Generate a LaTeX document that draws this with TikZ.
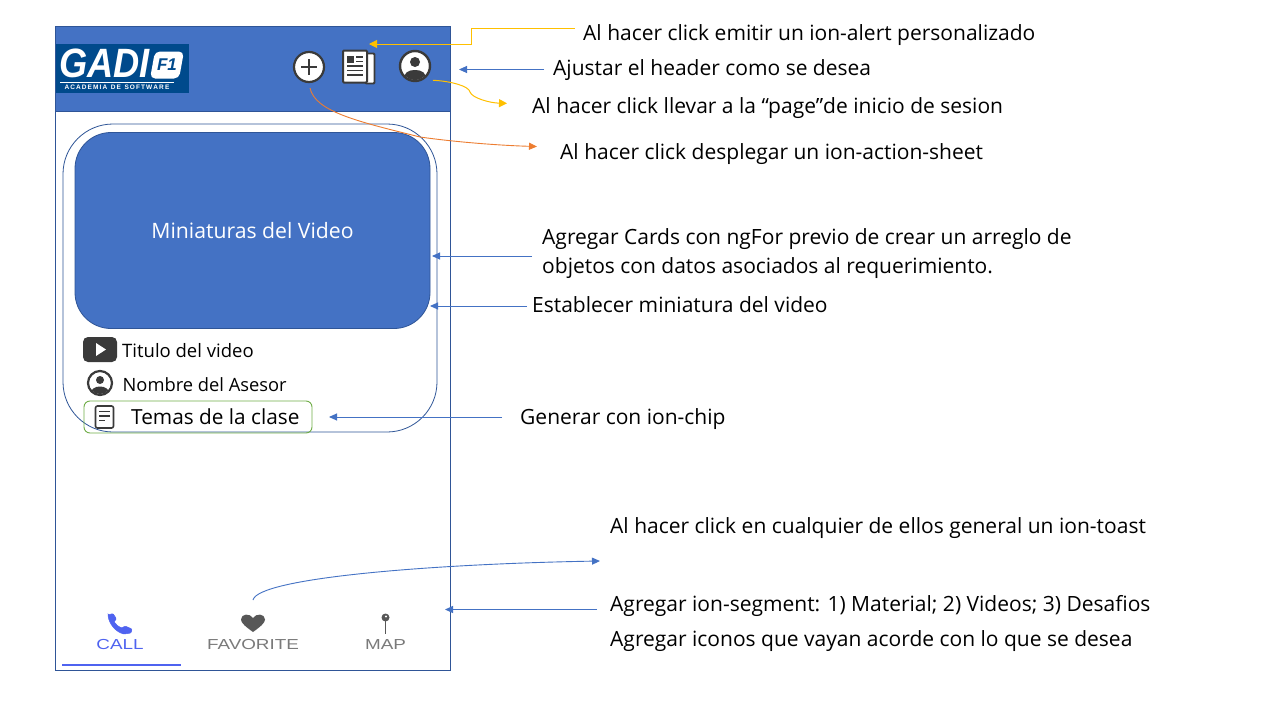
\documentclass[tikz,border=0pt]{standalone}
\usepackage{fontspec}
\setmainfont{Open Sans}
\newfontfamily\logofont{Liberation Sans}
\newfontfamily\tabfont{Liberation Sans}
\usetikzlibrary{arrows.meta}
\definecolor{hdrblue}{HTML}{4472C4}
\definecolor{darkblue}{HTML}{2F5597}
\definecolor{logoblue}{HTML}{004A8C}
\definecolor{ambar}{HTML}{FFC000}
\definecolor{naranja}{HTML}{ED7D31}
\definecolor{verde}{HTML}{70AD47}
\definecolor{icondark}{HTML}{3A3A3A}
\definecolor{tabblue}{HTML}{4F63F0}
\definecolor{tabgrey}{HTML}{7A7A7A}
\tikzset{
  note/.style={anchor=base west,inner ysep=0pt,font=\fontsize{21}{24}\selectfont,text=black},
  bluearrow/.style={draw=hdrblue,line width=0.9pt,-{Triangle[length=8pt,width=7pt]}},
  yelarrow/.style={draw=ambar,line width=1pt,-{Triangle[length=8pt,width=8pt]}},
  orgarrow/.style={draw=naranja,line width=0.9pt,-{Triangle[length=8pt,width=7pt]}},
  iconline/.style={draw=icondark,line width=2pt},
  tablabel/.style={font=\tabfont\fontsize{14.5}{16}\selectfont,inner sep=0pt,xscale=1.3},
}
\begin{document}
\begin{tikzpicture}[x=1pt,y=-1pt]
\useasboundingbox (0,0) rectangle (1280,720);
\fill[white] (0,0) rectangle (1280,720);
% phone frame
\node[draw=darkblue,line width=1pt,fill=white,minimum width=395pt,minimum height=644pt,inner sep=0pt,outer sep=0pt,anchor=north west] (phone) at (55.5,26.5) {};
\node[draw=darkblue,line width=1pt,fill=hdrblue,minimum width=395pt,minimum height=85pt,inner sep=0pt,outer sep=0pt,anchor=north west] (header) at (55.5,26.5) {};
% logo
\node[fill=logoblue,minimum width=133pt,minimum height=49pt,inner sep=0pt,outer sep=0pt,anchor=north west] (logo) at (56,44) {};
\node[inner sep=0pt,text=white,xscale=0.93,yscale=1.05] (logoname) at (104.5,63.5) {\logofont\fontsize{39}{39}\selectfont\bfseries\itshape GADI};
\node[fill=white,rounded corners=5pt,minimum width=29pt,minimum height=27pt,inner sep=0pt,xslant=0.18] (logobox) at (167,65) {};
\node[inner sep=0pt,text=logoblue] (logof) at (167,65) {\logofont\fontsize{17}{17}\selectfont\bfseries\itshape F1};
\draw[white,line width=0.8pt] (60,82) -- (174,82);
\node[inner sep=0pt,text=white] (logosub) at (117,87) {\logofont\fontsize{6.5}{7}\selectfont\bfseries A\,C\,A\,D\,E\,M\,I\,A\ \ D\,E\ \ S\,O\,F\,T\,W\,A\,R\,E};
% plus icon
\node[circle,draw=icondark,line width=2.2pt,fill=white,minimum size=30pt,inner sep=0pt,outer sep=0pt] (plus) at (309,67) {};
\draw[icondark,line width=2.2pt] (301,67) -- (317,67) (309,59) -- (309,75);
% newspaper icon
\node[draw=icondark,fill=white,line width=1.8pt,rounded corners=1pt,minimum width=9pt,minimum height=30pt,inner sep=0pt] (newsback) at (370,68.5) {};
\node[draw=icondark,fill=white,line width=2pt,rounded corners=1pt,minimum width=24pt,minimum height=32pt,inner sep=0pt] (news) at (355,66.5) {};
\fill[icondark] (347,56) rectangle (354,63);
\draw[icondark,line width=1.6pt] (356,57) -- (363,57) (356,61.5) -- (363,61.5) (347,66) -- (363,66) (347,70.5) -- (363,70.5) (347,75) -- (363,75);
% person icon top
\node[circle,draw=icondark,line width=2.4pt,fill=white,minimum size=30pt,inner sep=0pt] (user) at (415,66) {};
\fill[icondark] (415,62) circle (5pt);
\begin{scope}
\clip (415,66) circle (14pt);
\fill[icondark] (403,82) .. controls (403,72) and (409,70) .. (415,70) .. controls (421,70) and (427,72) .. (427,82) -- cycle;
\end{scope}
% card
\node[draw=darkblue,line width=0.8pt,fill=white,rounded corners=50pt,minimum width=374pt,minimum height=308pt,inner sep=0pt,outer sep=0pt,anchor=north west] (card) at (63,124) {};
\node[draw=darkblue,line width=0.8pt,fill=hdrblue,rounded corners=36pt,minimum width=355pt,minimum height=196pt,inner sep=0pt,outer sep=0pt,anchor=north west,text=white,font=\fontsize{21.2}{24}\selectfont] (thumb) at (75,132.5) {Miniaturas del Video};
% play icon
\node[fill=icondark,rounded corners=5pt,minimum width=34pt,minimum height=25pt,inner sep=0pt] (play) at (100,349.5) {};
\fill[white] (96,343) -- (106,349.5) -- (96,356) -- cycle;
\node[anchor=base west,inner sep=0pt,font=\fontsize{18.5}{22}\selectfont] (ttitle) at (122,357.2) {Titulo del video};
% person icon
\node[circle,draw=icondark,line width=2.2pt,fill=white,minimum size=24pt,inner sep=0pt] (person) at (100,383) {};
\fill[icondark] (100,380) circle (4pt);
\begin{scope}
\clip (100,383) circle (11pt);
\fill[icondark] (90,396) .. controls (90,389) and (95,386.5) .. (100,386.5) .. controls (105,386.5) and (110,389) .. (110,396) -- cycle;
\end{scope}
\node[anchor=base west,inner sep=0pt,font=\fontsize{18.3}{22}\selectfont] (tasesor) at (122.5,391.2) {Nombre del Asesor};
% chip
\node[draw=verde,line width=0.9pt,rounded corners=6pt,minimum width=228pt,minimum height=32pt,inner sep=0pt,outer sep=0pt,anchor=north west] (chip) at (84,401) {};
\node[draw=icondark,line width=1.6pt,fill=white,rounded corners=2pt,minimum width=18pt,minimum height=22pt,inner sep=0pt] (doc) at (104.5,417) {};
\draw[icondark,line width=1.2pt] (99,411.5) -- (110,411.5) (99,416) -- (110,416) (99,420.5) -- (105,420.5);
\node[anchor=base west,inner sep=0pt,font=\fontsize{20.8}{24}\selectfont] (tchip) at (131,424) {Temas de la clase};
% tabs
\draw[tabblue,line width=2pt] (62,665) -- (181,665);
\node[tablabel,text=tabblue] (call) at (120,644.5) {CALL};
\node[tablabel,text=tabgrey] (fav) at (253,644.5) {FAVORITE};
\node[tablabel,text=tabgrey] (map) at (385.5,644.5) {MAP};
\fill[tabblue,draw=tabblue,line width=0.5pt,rounded corners=1pt] (108,615) -- (113,613.5) -- (116.5,619) -- (114,621.5) .. controls (116,625) and (119,627) .. (122,628) -- (125,626) -- (132,629) -- (131,633) -- (124,634) .. controls (116,632) and (109,624) .. (108,615) -- cycle;
\fill[icondark!85] (253,632) .. controls (246,627) and (241,623) .. (241,619.5) .. controls (241,613.5) and (250,613) .. (253,618) .. controls (256,613) and (265,613.5) .. (265,619.5) .. controls (265,623) and (260,627) .. (253,632) -- cycle;
\coordinate (heart) at (253,600);
\draw[icondark!85,line width=1.4pt] (385.5,617) -- (385.5,633.5);
\fill[icondark!85] (385.5,617.5) circle (4pt);
\fill[white] (386,616.5) circle (1.2pt);
% notes
\node[note,inner xsep=8pt] (t1) at (575,40.3) {Al hacer click emitir un ion-alert personalizado};
\node[note,inner xsep=9pt] (t2) at (544,75.3) {Ajustar el header como se desea};
\node[note,inner xsep=25pt] (t3) at (507,113.3) {Al hacer click llevar a la “page”de inicio de sesion};
\node[note,inner xsep=23pt] (t4) at (537,159.3) {Al hacer click desplegar un ion-action-sheet};
\node[note,inner xsep=10pt] (t5) at (532,244) {Agregar Cards con ngFor previo de crear un arreglo de};
\node[note,inner xsep=10pt] (t5b) at (532,273) {objetos con datos asociados al requerimiento.};
\node[note,inner xsep=5pt] (t6) at (527,312) {Establecer miniatura del video};
\node[note,inner xsep=18pt] (t7) at (502,424) {Generar con ion-chip};
\node[note,inner xsep=0pt] (t8) at (610,533) {Al hacer click en cualquier de ellos general un ion-toast};
\node[note,inner xsep=13pt] (t9) at (597,611.3) {Agregar ion-segment: 1) Material; 2) Videos; 3) Desafios};
\node[note,inner xsep=0pt] (t10) at (610,646) {Agregar iconos que vayan acorde con lo que se desea};
% connector ends
\coordinate (a1) at (369,44);
\coordinate (a1s) at (575,28.5);
\coordinate (a2) at (459,69.5);
\coordinate (a3) at (433,80.3);
\coordinate (a3e) at (507,103.3);
\coordinate (a4) at (310,88);
\coordinate (a4e) at (537,146.5);
\coordinate (a5) at (432,256);
\coordinate (a5s) at (532,256);
\coordinate (a6) at (430,306);
\coordinate (a7) at (329,417);
\coordinate (a8e) at (600,561);
\coordinate (a9) at (445,609.5);
% connectors
\draw[yelarrow] (t1.west |- a1s) -- (471,28.5) -- (471,44) -- (a1);
\draw[bluearrow] (t2.west |- a2) -- (a2);
\draw[yelarrow] (a3) .. controls (450,81) and (469,86) .. (470,92) .. controls (472,98) and (490,103) .. (a3e);
\draw[orgarrow] (a4) .. controls (315,112) and (360,122) .. (420,137) .. controls (455,142) and (500,145.5) .. (a4e);
\draw[bluearrow] (a5s) -- (a5);
\draw[bluearrow] (t6.west |- a6) -- (a6);
\draw[bluearrow] (t7.west |- a7) -- (a7);
\draw[bluearrow] (heart) .. controls (258,578) and (430,564) .. (a8e);
\draw[bluearrow] (t9.west |- a9) -- (a9);
\end{tikzpicture}
\end{document}
